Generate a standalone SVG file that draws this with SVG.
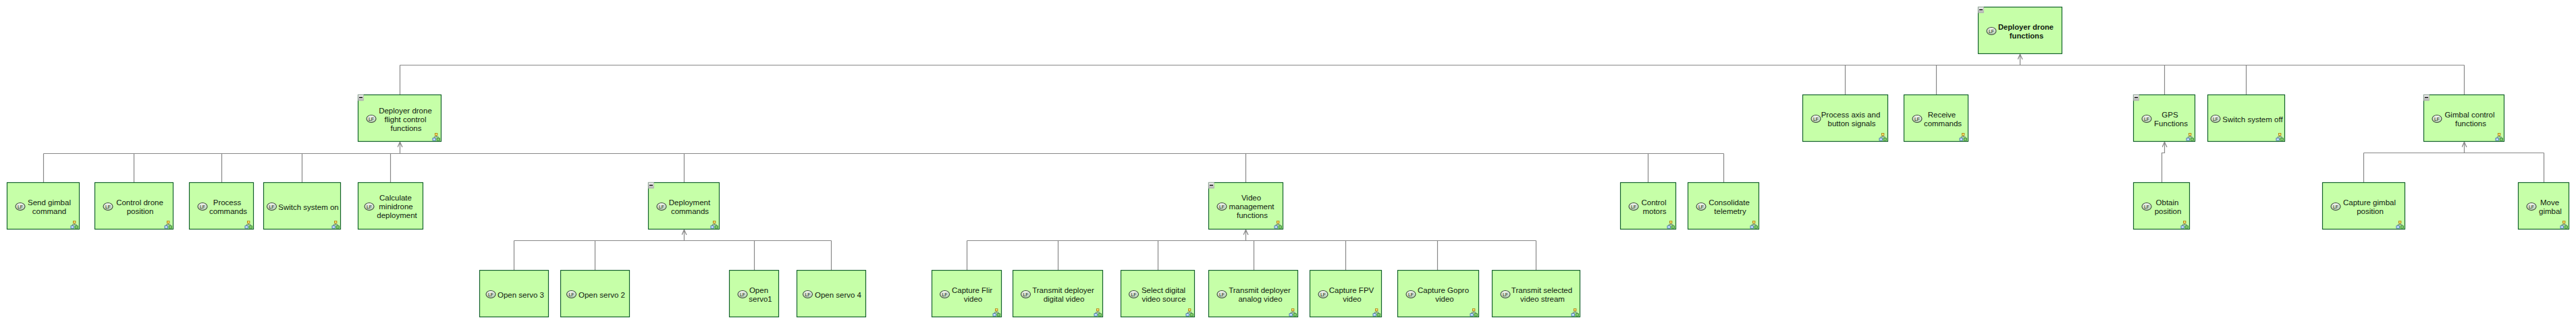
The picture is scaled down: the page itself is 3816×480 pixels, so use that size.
<svg xmlns="http://www.w3.org/2000/svg" width="3816" height="480" viewBox="0 0 3816 480">
<style>
text{font-family:"Liberation Sans",Arial,sans-serif;fill:#101a10}
.t{font-size:11.5px;text-anchor:middle}
.rt{font-size:11.2px;font-weight:bold;text-anchor:middle}
.lf{font-size:7px;text-anchor:middle}
.b{fill:#c6ffa8;stroke:#14622c;stroke-width:1.2}
.c{fill:url(#cg);stroke:#3c4a3c;stroke-width:1.1}
.cn{fill:none;stroke:#888;stroke-width:1.2}
.ar{fill:none;stroke:#888;stroke-width:1.2;marker-end:url(#a)}
</style>
<defs>
<linearGradient id="cg" x1="0" y1="0" x2="0" y2="1"><stop offset="0" stop-color="#f6f8f4"/><stop offset="1" stop-color="#b4ccac"/></linearGradient>
<linearGradient id="mg" x1="0" y1="0" x2="0" y2="1"><stop offset="0" stop-color="#f4f4f4"/><stop offset="1" stop-color="#b0b0b0"/></linearGradient>
<marker id="a" markerUnits="userSpaceOnUse" markerWidth="10" markerHeight="12" refX="8" refY="4" orient="auto"><path d="M0.5 0.5L8 4L0.5 7.5" fill="none" stroke="#888" stroke-width="1.3"/></marker>
<g id="h"><path d="M-7.3 -8.8V-6.8M-10.3 -4.8V-6.8H-4.3V-4.8" fill="none" stroke="#446" stroke-width=".7"/><rect x="-9" y="-12" width="3.4" height="3.2" fill="#ffe27a" stroke="#a87800" stroke-width=".8"/><rect x="-12.5" y="-4.8" width="4.4" height="3.4" fill="#cfe4ff" stroke="#2a5caa" stroke-width=".8"/><rect x="-6.4" y="-4.8" width="4.4" height="3.4" fill="#8fd07a" stroke="#1f7a1f" stroke-width=".8"/></g>
<g id="m"><rect x="0" y="0" width="8" height="8.5" fill="url(#mg)" stroke="#aaa" stroke-width=".6"/><rect x="1.5" y="3.3" width="5" height="1.3" fill="#000"/></g>
</defs>
<g id="connectors">
<path class="cn" d="M592.5 96.5H3650.5M592.5 96.5V140.5M2733.5 96.5V140.5M2868.5 96.5V140.5M3206.5 96.5V140.5M3327.5 96.5V140.5M3650.5 96.5V140.5"/>
<path class="ar" d="M2992.5 96.5V80.5"/>
<path class="cn" d="M64.5 227.5H2553.5M64.5 227.5V270.5M198.5 227.5V270.5M328.5 227.5V270.5M447.5 227.5V270.5M578.5 227.5V270.5M1013.5 227.5V270.5M1845.5 227.5V270.5M2441.5 227.5V270.5M2553.5 227.5V270.5"/>
<path class="ar" d="M592.5 227.5V210.5"/>
<path class="cn" d="M761.5 356.5H1231.5M761.5 356.5V400.5M881.5 356.5V400.5M1117.5 356.5V400.5M1231.5 356.5V400.5"/>
<path class="ar" d="M1013.5 356.5V340.5"/>
<path class="cn" d="M1432.5 356.5H2275.5M1432.5 356.5V400.5M1567.5 356.5V400.5M1715.5 356.5V400.5M1857.5 356.5V400.5M1993.5 356.5V400.5M2129.5 356.5V400.5M2275.5 356.5V400.5"/>
<path class="ar" d="M1845.5 356.5V340.5"/>
<path class="ar" d="M3202.5 270.5V226.5H3206.5V210.5"/>
<path class="cn" d="M3501.5 226.5H3768.5M3501.5 226.5V270.5M3768.5 226.5V270.5"/>
<path class="ar" d="M3650.5 226.5V210.5"/>
</g>
<g id="n-root"><rect class="b" x="2930.5" y="10.5" width="124" height="69"/><use href="#m" x="2930.5" y="10.5"/><ellipse class="c" cx="2950" cy="46" rx="7" ry="5.5"/><text class="lf" x="2950" y="48.5">LF</text><text class="rt" x="3001" y="44">Deployer drone<tspan x="3002" dy="13">functions</tspan></text></g>
<g id="n-flight"><rect class="b" x="530.5" y="140.5" width="123" height="69"/><use href="#m" x="530.5" y="140.5"/><ellipse class="c" cx="550" cy="176" rx="7" ry="5.5"/><text class="lf" x="550" y="178.5">LF</text><text class="t" x="600.5" y="168">Deployer drone<tspan x="600.5" dy="13">flight control</tspan><tspan x="601.5" dy="13">functions</tspan></text><use href="#h" x="653.5" y="209.5"/></g>
<g id="n-send"><rect class="b" x="10.5" y="270.5" width="107" height="69"/><ellipse class="c" cx="30" cy="306" rx="7" ry="5.5"/><text class="lf" x="30" y="308.5">LF</text><text class="t" x="73" y="304">Send gimbal<tspan x="73" dy="13">command</tspan></text><use href="#h" x="117.5" y="339.5"/></g>
<g id="n-control-drone"><rect class="b" x="140.5" y="270.5" width="116" height="69"/><ellipse class="c" cx="160" cy="306" rx="7" ry="5.5"/><text class="lf" x="160" y="308.5">LF</text><text class="t" x="207" y="304">Control drone<tspan x="207.5" dy="13">position</tspan></text><use href="#h" x="256.5" y="339.5"/></g>
<g id="n-process"><rect class="b" x="280.5" y="270.5" width="95" height="69"/><ellipse class="c" cx="300" cy="306" rx="7" ry="5.5"/><text class="lf" x="300" y="308.5">LF</text><text class="t" x="336.5" y="304">Process<tspan x="338" dy="13">commands</tspan></text><use href="#h" x="375.5" y="339.5"/></g>
<g id="n-switch-on"><rect class="b" x="390.5" y="270.5" width="114" height="69"/><ellipse class="c" cx="402.5" cy="306" rx="7" ry="5.5"/><text class="lf" x="402.5" y="308.5">LF</text><text class="t" x="457" y="310.5">Switch system on</text><use href="#h" x="504.5" y="339.5"/></g>
<g id="n-calc"><rect class="b" x="530.5" y="270.5" width="96" height="69"/><ellipse class="c" cx="547" cy="306" rx="7" ry="5.5"/><text class="lf" x="547" y="308.5">LF</text><text class="t" x="586" y="297">Calculate<tspan x="586.5" dy="13">minidrone</tspan><tspan x="588" dy="13">deployment</tspan></text></g>
<g id="n-deployment"><rect class="b" x="960.5" y="270.5" width="105" height="69"/><use href="#m" x="960.5" y="270.5"/><ellipse class="c" cx="980" cy="306" rx="7" ry="5.5"/><text class="lf" x="980" y="308.5">LF</text><text class="t" x="1021.5" y="304">Deployment<tspan x="1022" dy="13">commands</tspan></text><use href="#h" x="1065.5" y="339.5"/></g>
<g id="n-servo3"><rect class="b" x="710.5" y="400.5" width="102" height="69"/><ellipse class="c" cx="727" cy="436" rx="7" ry="5.5"/><text class="lf" x="727" y="438.5">LF</text><text class="t" x="771.5" y="440.5">Open servo 3</text></g>
<g id="n-servo2"><rect class="b" x="830.5" y="400.5" width="102" height="69"/><ellipse class="c" cx="846.5" cy="436" rx="7" ry="5.5"/><text class="lf" x="846.5" y="438.5">LF</text><text class="t" x="891.5" y="440.5">Open servo 2</text></g>
<g id="n-servo1"><rect class="b" x="1080.5" y="400.5" width="73" height="69"/><ellipse class="c" cx="1100" cy="436" rx="7" ry="5.5"/><text class="lf" x="1100" y="438.5">LF</text><text class="t" x="1124" y="434">Open<tspan x="1126.5" dy="13">servo1</tspan></text></g>
<g id="n-servo4"><rect class="b" x="1180.5" y="400.5" width="102" height="69"/><ellipse class="c" cx="1196.5" cy="436" rx="7" ry="5.5"/><text class="lf" x="1196.5" y="438.5">LF</text><text class="t" x="1241.5" y="440.5">Open servo 4</text></g>
<g id="n-video"><rect class="b" x="1790.5" y="270.5" width="110" height="69"/><use href="#m" x="1790.5" y="270.5"/><ellipse class="c" cx="1810" cy="306" rx="7" ry="5.5"/><text class="lf" x="1810" y="308.5">LF</text><text class="t" x="1853.5" y="297">Video<tspan x="1854" dy="13">management</tspan><tspan x="1855" dy="13">functions</tspan></text><use href="#h" x="1900.5" y="339.5"/></g>
<g id="n-flir"><rect class="b" x="1380.5" y="400.5" width="103" height="69"/><ellipse class="c" cx="1399.5" cy="436" rx="7" ry="5.5"/><text class="lf" x="1399.5" y="438.5">LF</text><text class="t" x="1440" y="434">Capture Flir<tspan x="1441.5" dy="13">video</tspan></text><use href="#h" x="1483.5" y="469.5"/></g>
<g id="n-tx-digital"><rect class="b" x="1500.5" y="400.5" width="133" height="69"/><ellipse class="c" cx="1519.5" cy="436" rx="7" ry="5.5"/><text class="lf" x="1519.5" y="438.5">LF</text><text class="t" x="1575" y="434">Transmit deployer<tspan x="1576" dy="13">digital video</tspan></text><use href="#h" x="1633.5" y="469.5"/></g>
<g id="n-select"><rect class="b" x="1660.5" y="400.5" width="109" height="69"/><ellipse class="c" cx="1679.5" cy="436" rx="7" ry="5.5"/><text class="lf" x="1679.5" y="438.5">LF</text><text class="t" x="1723.5" y="434">Select digital<tspan x="1724" dy="13">video source</tspan></text><use href="#h" x="1769.5" y="469.5"/></g>
<g id="n-tx-analog"><rect class="b" x="1790.5" y="400.5" width="132" height="69"/><ellipse class="c" cx="1810" cy="436" rx="7" ry="5.5"/><text class="lf" x="1810" y="438.5">LF</text><text class="t" x="1866" y="434">Transmit deployer<tspan x="1867" dy="13">analog video</tspan></text><use href="#h" x="1922.5" y="469.5"/></g>
<g id="n-fpv"><rect class="b" x="1940.5" y="400.5" width="106" height="69"/><ellipse class="c" cx="1960" cy="436" rx="7" ry="5.5"/><text class="lf" x="1960" y="438.5">LF</text><text class="t" x="2002" y="434">Capture FPV<tspan x="2003" dy="13">video</tspan></text><use href="#h" x="2046.5" y="469.5"/></g>
<g id="n-gopro"><rect class="b" x="2070.5" y="400.5" width="120" height="69"/><ellipse class="c" cx="2090" cy="436" rx="7" ry="5.5"/><text class="lf" x="2090" y="438.5">LF</text><text class="t" x="2138" y="434">Capture Gopro<tspan x="2140" dy="13">video</tspan></text><use href="#h" x="2190.5" y="469.5"/></g>
<g id="n-tx-selected"><rect class="b" x="2210.5" y="400.5" width="130" height="69"/><ellipse class="c" cx="2230" cy="436" rx="7" ry="5.5"/><text class="lf" x="2230" y="438.5">LF</text><text class="t" x="2284" y="434">Transmit selected<tspan x="2285" dy="13">video stream</tspan></text><use href="#h" x="2340.5" y="469.5"/></g>
<g id="n-motors"><rect class="b" x="2400.5" y="270.5" width="82" height="69"/><ellipse class="c" cx="2420" cy="306" rx="7" ry="5.5"/><text class="lf" x="2420" y="308.5">LF</text><text class="t" x="2450" y="304">Control<tspan x="2451" dy="13">motors</tspan></text><use href="#h" x="2482.5" y="339.5"/></g>
<g id="n-telemetry"><rect class="b" x="2500.5" y="270.5" width="105" height="69"/><ellipse class="c" cx="2520" cy="306" rx="7" ry="5.5"/><text class="lf" x="2520" y="308.5">LF</text><text class="t" x="2561.5" y="304">Consolidate<tspan x="2563" dy="13">telemetry</tspan></text><use href="#h" x="2605.5" y="339.5"/></g>
<g id="n-axis"><rect class="b" x="2670.5" y="140.5" width="126" height="69"/><ellipse class="c" cx="2690" cy="176" rx="7" ry="5.5"/><text class="lf" x="2690" y="178.5">LF</text><text class="t" x="2741.5" y="174">Process axis and<tspan x="2743" dy="13">button signals</tspan></text><use href="#h" x="2796.5" y="209.5"/></g>
<g id="n-receive"><rect class="b" x="2820.5" y="140.5" width="95" height="69"/><ellipse class="c" cx="2840" cy="176" rx="7" ry="5.5"/><text class="lf" x="2840" y="178.5">LF</text><text class="t" x="2876.5" y="174">Receive<tspan x="2878" dy="13">commands</tspan></text><use href="#h" x="2915.5" y="209.5"/></g>
<g id="n-gps"><rect class="b" x="3160.5" y="140.5" width="91" height="69"/><use href="#m" x="3160.5" y="140.5"/><ellipse class="c" cx="3180" cy="176" rx="7" ry="5.5"/><text class="lf" x="3180" y="178.5">LF</text><text class="t" x="3214.5" y="174">GPS<tspan x="3216" dy="13">Functions</tspan></text><use href="#h" x="3251.5" y="209.5"/></g>
<g id="n-switch-off"><rect class="b" x="3270.5" y="140.5" width="114" height="69"/><ellipse class="c" cx="3282" cy="176" rx="7" ry="5.5"/><text class="lf" x="3282" y="178.5">LF</text><text class="t" x="3337" y="180.5">Switch system off</text><use href="#h" x="3384.5" y="209.5"/></g>
<g id="n-gimbal"><rect class="b" x="3590.5" y="140.5" width="119" height="69"/><use href="#m" x="3590.5" y="140.5"/><ellipse class="c" cx="3610" cy="176" rx="7" ry="5.5"/><text class="lf" x="3610" y="178.5">LF</text><text class="t" x="3658.5" y="174">Gimbal control<tspan x="3660" dy="13">functions</tspan></text><use href="#h" x="3709.5" y="209.5"/></g>
<g id="n-obtain"><rect class="b" x="3160.5" y="270.5" width="83" height="69"/><ellipse class="c" cx="3180" cy="306" rx="7" ry="5.5"/><text class="lf" x="3180" y="308.5">LF</text><text class="t" x="3210.5" y="304">Obtain<tspan x="3211.5" dy="13">position</tspan></text><use href="#h" x="3243.5" y="339.5"/></g>
<g id="n-cap-gimbal"><rect class="b" x="3440.5" y="270.5" width="122" height="69"/><ellipse class="c" cx="3460" cy="306" rx="7" ry="5.5"/><text class="lf" x="3460" y="308.5">LF</text><text class="t" x="3510" y="304">Capture gimbal<tspan x="3511" dy="13">position</tspan></text><use href="#h" x="3562.5" y="339.5"/></g>
<g id="n-move"><rect class="b" x="3730.5" y="270.5" width="75" height="69"/><ellipse class="c" cx="3750" cy="306" rx="7" ry="5.5"/><text class="lf" x="3750" y="308.5">LF</text><text class="t" x="3777" y="304">Move<tspan x="3778" dy="13">gimbal</tspan></text><use href="#h" x="3805.5" y="339.5"/></g>
</svg>
